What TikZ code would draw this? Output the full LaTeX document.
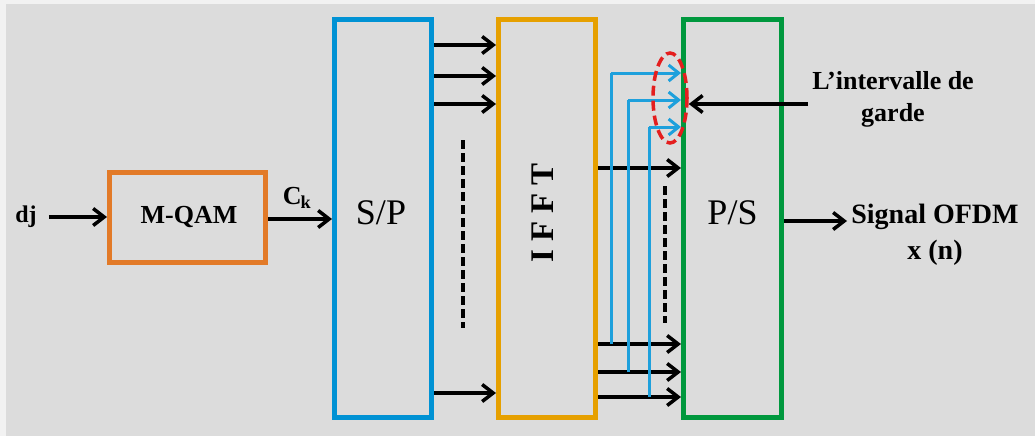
\documentclass[tikz,border=0pt]{standalone}
\usepackage{fontspec}
\setmainfont{Liberation Serif}
\usetikzlibrary{arrows.meta,calc,shapes.geometric}
\definecolor{bgc}{RGB}{220,220,220}
\definecolor{qamc}{RGB}{226,122,40}
\definecolor{spc}{RGB}{0,146,212}
\definecolor{fftc}{RGB}{230,160,0}
\definecolor{psc}{RGB}{0,152,62}
\definecolor{bluel}{RGB}{30,160,220}
\definecolor{redc}{RGB}{228,30,30}
\tikzset{
  blk/.style={draw, line width=5pt, inner sep=0pt},
  arr/.style={line width=3.5pt, -{Straight Barb[length=11pt,width=17pt]}},
  barr/.style={line width=3pt, bluel, -{Straight Barb[length=10pt,width=16pt]}},
  bline/.style={line width=3pt, bluel},
  dots/.style={line width=3.5pt, dash pattern=on 9pt off 4pt},
  lbl/.style={font=\fontsize{24}{28}\selectfont\bfseries, inner sep=0pt},
  big/.style={font=\fontsize{36}{40}\selectfont, inner sep=0pt},
}
\begin{document}
\begin{tikzpicture}[x=1pt,y=-1pt]
\useasboundingbox (0,0) rectangle (1035,436);
\fill[white!95!black] (0,0) rectangle (1035,436);
\fill[bgc] (6,4) rectangle (1035,436);

% blocks
\node[blk, draw=qamc, minimum width=156pt, minimum height=90pt] (qam) at (187.5,217) {};
\node[lbl, font=\fontsize{26}{28}\selectfont\bfseries] (qamt) at (189,217) {M-QAM};
\node[blk, draw=spc, minimum width=97pt, minimum height=398pt] (sp) at (383,218.5) {};
\node[blk, draw=fftc, minimum width=97pt, minimum height=398pt] (ifft) at (547,218.5) {};
\node[blk, draw=psc, minimum width=98pt, minimum height=398pt] (ps) at (732.5,218.5) {};
\node[big] (spt) at (381,213) {S/P};
\node[big] (pst) at (732.5,213) {P/S};
\node[lbl, font=\fontsize{33}{36}\selectfont\bfseries, rotate=90] (fftt) at (543,213) {I F F T};

% input
\node[lbl] (dj) at (26,217) {dj};
\draw[arr] (dj.east) ++(12pt,0) coordinate (djs) -- (qam.west |- djs);
\coordinate (ck0) at (qam.east |- 0,219);
\draw[arr] (ck0) -- (sp.west |- ck0);
\node[lbl, font=\fontsize{26}{28}\selectfont\bfseries] (ck) at (297,198) {C\textsubscript{\kern-1pt k}};

% S/P -> IFFT
\foreach \y in {45,76,104,393}{
  \draw[arr] (sp.east |- 0,\y) -- (ifft.west |- 0,\y);
}
\draw[dots] (463,140) -- (463,328);

% IFFT -> P/S
\foreach \y in {168,344,372,397}{
  \draw[arr] (ifft.east |- 0,\y) -- (ps.west |- 0,\y);
}
\draw[dots] (665,186) -- (665,323);

% blue guard lines
\draw[bline] (611,344) -- (611,73);
\draw[barr] (611,73) -- (ps.west |- 0,73);
\draw[bline] (628,372) -- (628,100);
\draw[barr] (628,100) -- (ps.west |- 0,100);
\draw[bline] (649,397) -- (649,127);
\draw[barr] (649,127) -- (ps.west |- 0,127);

% red ellipse
\node[draw=redc, line width=3.5pt, dash pattern=on 10pt off 5pt, ellipse, minimum width=34pt, minimum height=90pt, inner sep=0pt] (ell) at (670,98) {};

% guard label
\node[lbl, font=\fontsize{26}{32}\selectfont\bfseries, align=center] (gi) at (893,99) {L’intervalle de\\garde};
\coordinate (gs) at (808,104);
\draw[arr] (gs) -- (ell.east |- gs);

% output
\node[lbl, font=\fontsize{28}{36}\selectfont\bfseries, align=center] (out) at (935,235) {Signal OFDM\\x (n)};
\coordinate (o0) at (ps.east |- 0,221);
\draw[arr] (o0) -- (847,221) coordinate (o1);
\end{tikzpicture}
\end{document}
